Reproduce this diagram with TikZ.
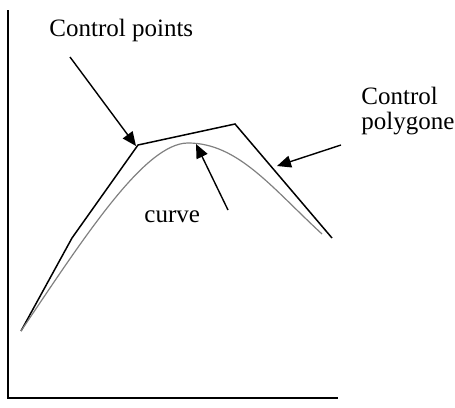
\documentclass[tikz,border=0pt]{standalone}
\usepackage{fontspec}
\setmainfont{Liberation Serif}
\usetikzlibrary{arrows.meta}

\begin{document}
\begin{tikzpicture}[
    x=0.5pt, y=-0.5pt,
    font=\rmfamily\fontsize{12.5}{12.5}\selectfont,
    >={Triangle[length=7pt,width=6pt]},
    poly/.style={black, line width=0.75pt},
    pointer/.style={->, black, line width=0.7pt},
    label/.style={anchor=base west, inner sep=0pt, align=left}
]

\definecolor{cgray}{HTML}{808080}

\useasboundingbox (0,0) rectangle (455,407);

% ==========================================
% 1. AXES
% ==========================================

\coordinate (top)    at (8, 10);
\coordinate (origin) at (8, 398);
\coordinate (right)  at (338, 398);
\draw[line width=0.6pt] (top) -- (origin) -- (right);

% ==========================================
% 2. CONTROL POLYGON & CURVE
% ==========================================

\coordinate (P0) at (21, 331);
\coordinate (P1) at (72, 238);
\coordinate (P2) at (138, 145);
\coordinate (P3) at (235, 124);
\coordinate (P4) at (332, 238);

\draw[poly] (P0) -- (P1) -- (P2) -- (P3) -- (P4);

\coordinate (peak) at (188, 143);
\coordinate (cend) at (322, 234);
\draw[cgray, line width=0.6pt] (P0) .. controls (85, 236) and (145, 143) .. (peak)
    .. controls (238, 143) and (272, 188) .. (cend);

% ==========================================
% 3. LABELS
% ==========================================

\node[label] (pts)   at (49, 36)   {Control points};
\node[label] (polyg) at (361, 129) {Control\\polygone};
\node[label] (crv)   at (144, 222) {curve};

% ==========================================
% 4. ARROWS
% ==========================================

\coordinate (ptsTail)   at (70, 57);
\coordinate (crvTail)   at (228, 210);
\coordinate (polyTail)  at (341, 145);
\coordinate (polyHit)   at (277, 166);

\draw[pointer] (ptsTail) -- ([xshift=-1pt,yshift=-0.5pt]P2);
\draw[pointer] (crvTail) -- (196, 144);
\draw[pointer] (polyTail) -- (polyHit);

\end{tikzpicture}
\end{document}
